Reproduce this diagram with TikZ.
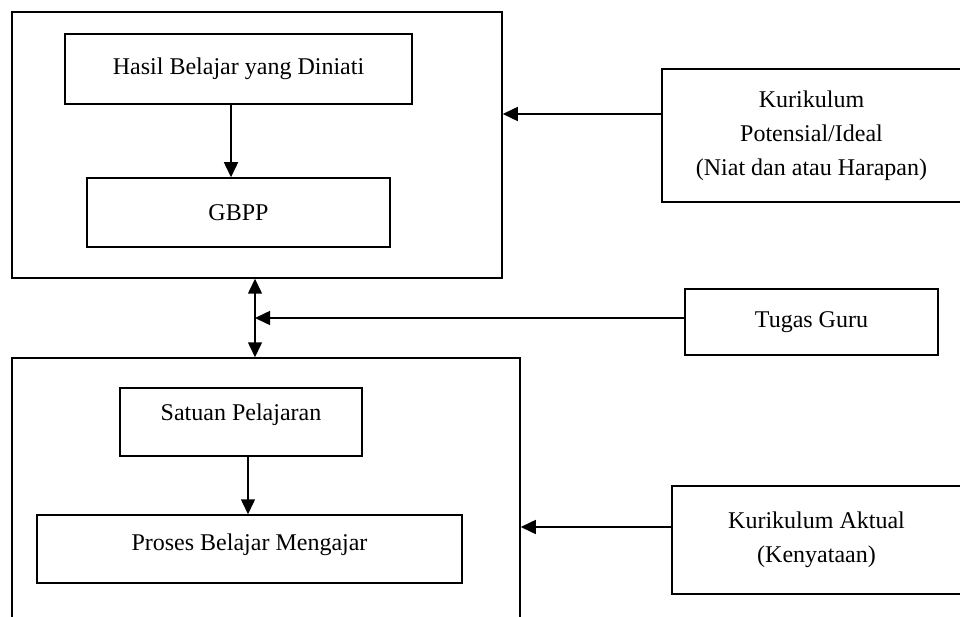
\documentclass[tikz,border=0pt]{standalone}
\usepackage{fontspec}
\setmainfont{Liberation Serif}
\usetikzlibrary{arrows.meta}
\begin{document}
\begin{tikzpicture}[x=1pt, y=-1pt,
		kotak/.style={draw, line width=1.5pt, inner sep=0pt, align=center, font=\fontsize{24}{34}\selectfont},
		panah/.style={line width=1.5pt, -{Triangle[length=15pt, width=14pt]}},
		panahdua/.style={line width=1.5pt, {Triangle[length=15pt, width=14pt]}-{Triangle[length=15pt, width=14pt]}}]
		\useasboundingbox ( 0, 0 ) rectangle ( 960, 617 );

		% kotak atas
		\node [kotak, minimum width=490pt, minimum height=266pt] (atas) at ( 257, 145 ) {};
		\node [kotak, minimum width=347pt, minimum height=70pt] (hasil) at ( 238.5, 69 ) {Hasil Belajar yang Diniati};
		\node [kotak, minimum width=303pt, minimum height=69pt] (gbpp) at ( 238.5, 212.5 ) {GBPP};
		\draw [panah] ([xshift=-7.5pt]hasil.south) -- ([xshift=-7.5pt]hasil.south |- gbpp.north);

		% kurikulum potensial
		\node [kotak, minimum width=299pt, minimum height=133pt] (potensial) at ( 811.5, 135.5 ) {Kurikulum\\Potensial/Ideal\\(Niat dan atau Harapan)};
		\draw [panah] ([yshift=21.5pt]potensial.west) -- ([yshift=21.5pt]potensial.west -| atas.east);

		% kotak bawah
		\node [kotak, minimum width=508pt, minimum height=282pt] (bawah) at ( 266, 499 ) {};
		\node [kotak, minimum width=242pt, minimum height=68pt, text depth=19pt] (satuan) at ( 241, 422 ) {Satuan Pelajaran};
		\node [kotak, minimum width=425pt, minimum height=68pt, text depth=13pt] (proses) at ( 249.5, 549 ) {Proses Belajar Mengajar};
		\draw [panah] ([xshift=7pt]satuan.south) -- ([xshift=7pt]satuan.south |- proses.north);

		% tugas guru
		\coordinate (jalur) at ( 255, 318 );
		\node [kotak, minimum width=253pt, minimum height=66pt] (tugas) at ( 811.5, 322 ) {Tugas Guru};
		\draw [panahdua] (atas.south -| jalur) -- (bawah.north -| jalur);
		\draw [panah] ([yshift=4pt]tugas.west) -- ([yshift=4pt]tugas.west -| jalur);

		% kurikulum aktual
		\node [kotak, minimum width=289pt, minimum height=108pt] (aktual) at ( 816.5, 540 ) {Kurikulum Aktual\\(Kenyataan)};
		\draw [panah] ([yshift=13pt]aktual.west) -- ([yshift=13pt]aktual.west -| bawah.east);
	\end{tikzpicture}
\end{document}
